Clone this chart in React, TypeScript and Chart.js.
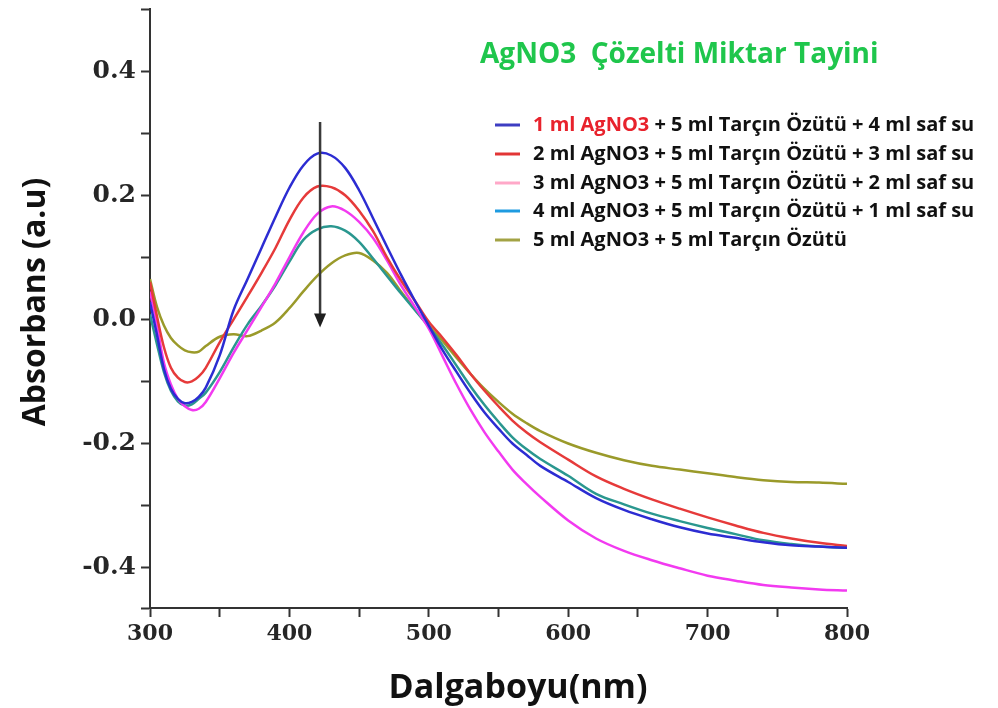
import React, { useEffect, useRef } from 'react';
import { Chart, registerables } from 'chart.js';

Chart.register(...registerables);

// ---- data ----
const wavelengths = [300, 305, 310, 315, 320, 325, 330, 335, 340, 350, 360, 370, 380, 390, 400, 410, 420, 430, 440, 450, 460, 470, 480, 490, 500, 510, 520, 530, 540, 550, 560, 570, 580, 600, 620, 640, 660, 680, 700, 720, 740, 760, 780, 800];

const ag1ml = [0.028, -0.025, -0.08, -0.112, -0.128, -0.135, -0.133, -0.125, -0.11,
  -0.058, 0.015, 0.065, 0.115, 0.165, 0.212, 0.248, 0.267, 0.264, 0.244, 0.208, 0.163, 0.117, 0.072, 0.03, -0.01, -0.05, -0.085, -0.119, -0.15, -0.176, -0.2, -0.218, -0.236,
  -0.262, -0.288, -0.307, -0.322, -0.335, -0.345, -0.352, -0.359, -0.364, -0.366, -0.368];

const ag2ml = [0.06, 0.005, -0.045, -0.078, -0.094, -0.101, -0.1, -0.092, -0.078,
  -0.037, 0.0, 0.037, 0.075, 0.115, 0.16, 0.196, 0.214, 0.213, 0.2, 0.175, 0.142, 0.1, 0.063, 0.03, -0.004, -0.03, -0.058, -0.088, -0.115, -0.14, -0.163, -0.182, -0.198,
  -0.226, -0.253, -0.273, -0.29, -0.305, -0.319, -0.332, -0.344, -0.353, -0.36, -0.365];

const ag3ml = [0.045, -0.01, -0.07, -0.105, -0.128, -0.14, -0.146, -0.144, -0.133,
  -0.095, -0.054, -0.017, 0.02, 0.058, 0.1, 0.14, 0.17, 0.182, 0.175, 0.157, 0.131, 0.095, 0.055, 0.02, -0.015, -0.06, -0.105, -0.146, -0.182, -0.213, -0.242, -0.265, -0.286,
  -0.324, -0.353, -0.373, -0.388, -0.401, -0.413, -0.421, -0.428, -0.432, -0.435, -0.437];

const ag4ml = [0.008, -0.04, -0.085, -0.115, -0.132, -0.139, -0.137, -0.128, -0.118,
  -0.085, -0.045, -0.008, 0.022, 0.055, 0.093, 0.128, 0.145, 0.15, 0.143, 0.125, 0.098, 0.07, 0.042, 0.015, -0.012, -0.042, -0.075, -0.108, -0.138, -0.165, -0.19, -0.209, -0.225,
  -0.252, -0.281, -0.298, -0.313, -0.325, -0.336, -0.346, -0.356, -0.362, -0.366, -0.368];

const ag5ml = [0.065, 0.02, -0.01, -0.03, -0.042, -0.05, -0.053, -0.052, -0.043,
  -0.028, -0.024, -0.027, -0.018, -0.005, 0.018, 0.045, 0.07, 0.09, 0.103, 0.107, 0.095, 0.075, 0.045, 0.016, -0.01, -0.035, -0.062, -0.088, -0.112, -0.133, -0.152, -0.167, -0.18,
  -0.2, -0.215, -0.227, -0.236, -0.242, -0.248, -0.254, -0.259, -0.262, -0.263, -0.265];

const seriesValues = [ag1ml, ag2ml, ag3ml, ag4ml, ag5ml];

const seriesLabels = [
  '1 ml AgNO3 + 5 ml Tarçın Özütü + 4 ml saf su',
  '2 ml AgNO3 + 5 ml Tarçın Özütü + 3 ml saf su',
  '3 ml AgNO3 + 5 ml Tarçın Özütü + 2 ml saf su',
  '4 ml AgNO3 + 5 ml Tarçın Özütü + 1 ml saf su',
  '5 ml AgNO3 + 5 ml Tarçın Özütü',
];
const highlightedPrefix = ['1 ml AgNO3', '', '', '', ''];

const lineColors = ['#2c2cd2', '#e63a3a', '#f23af0', '#2a978f', '#9a9a2a'];
const legendColors = ['#3d3dc2', '#e23535', '#ffa8c8', '#1e9be0', '#a3a345'];

const legendTitle = 'AgNO3  Çözelti Miktar Tayini';
const yTitle = 'Absorbans (a.u)';
const xTitle = 'Dalgaboyu(nm)';

const xMin = 300, xMax = 800, xStep = 50;
const yMin = -0.465, yMax = 0.5, yStep = 0.1;

// arrow (data coordinates)
const arrowX = 422;
const arrowFrom = 0.318;
const arrowTo = -0.013;

const overlayPlugin = {
  id: 'overlay',
  afterDraw(chart: any) {
    const ctx = chart.ctx as CanvasRenderingContext2D;
    const xs = chart.scales.x;
    const ys = chart.scales.y;
    ctx.save();

    // arrow
    const ax = xs.getPixelForValue(arrowX);
    const ay1 = ys.getPixelForValue(arrowFrom);
    const ay2 = ys.getPixelForValue(arrowTo);
    ctx.strokeStyle = '#3a3a3a';
    ctx.lineWidth = 2.5;
    ctx.beginPath();
    ctx.moveTo(ax, ay1);
    ctx.lineTo(ax, ay2 - 10);
    ctx.stroke();
    ctx.fillStyle = '#1e1e1e';
    ctx.beginPath();
    ctx.moveTo(ax - 6, ay2 - 14);
    ctx.lineTo(ax + 6, ay2 - 14);
    ctx.lineTo(ax, ay2);
    ctx.closePath();
    ctx.fill();

    // axis titles
    ctx.fillStyle = '#111';
    ctx.textAlign = 'center';
    ctx.textBaseline = 'middle';
    ctx.font = 'bold 32px "Open Sans"';
    ctx.save();
    ctx.translate(36, 302);
    ctx.rotate(-Math.PI / 2);
    ctx.fillText(yTitle, 0, 0);
    ctx.restore();
    ctx.font = 'bold 34px "Open Sans"';
    ctx.fillText(xTitle, 518, 688);

    // legend title
    ctx.textAlign = 'left';
    ctx.fillStyle = '#1fc64c';
    ctx.font = 'bold 28px "Open Sans"';
    ctx.fillText(legendTitle, 480, 55);

    // legend entries
    const rowY = [125, 154, 183, 211, 240];
    ctx.font = 'bold 20px "Open Sans"';
    seriesLabels.forEach((label, i) => {
      const y = rowY[i];
      ctx.strokeStyle = legendColors[i];
      ctx.lineWidth = 3;
      ctx.beginPath();
      ctx.moveTo(495, y);
      ctx.lineTo(520, y);
      ctx.stroke();
      let x = 533;
      const pre = highlightedPrefix[i];
      let rest = label;
      if (pre && label.startsWith(pre)) {
        ctx.fillStyle = '#e8222c';
        ctx.fillText(pre, x, y);
        x += ctx.measureText(pre).width;
        rest = label.slice(pre.length);
      }
      ctx.fillStyle = '#111';
      ctx.fillText(rest, x, y);
    });

    ctx.restore();
  },
};

export default function App() {
  const canvasRef = useRef<HTMLCanvasElement | null>(null);

  useEffect(() => {
    const canvas = canvasRef.current;
    if (!canvas) return;
    const xTickFont = { family: '"DejaVu Serif"', weight: 'bold' as const, size: 22 };
    const yTickFont = { family: '"DejaVu Serif"', weight: 'bold' as const, size: 25 };
    const chart = new Chart(canvas, {
      type: 'line',
      data: {
        datasets: seriesValues.map((vals, i) => ({
          label: seriesLabels[i],
          data: wavelengths.map((w, j) => ({ x: w, y: vals[j] })),
          borderColor: lineColors[i],
          backgroundColor: lineColors[i],
          borderWidth: 2.5,
          pointRadius: 0,
          tension: 0.35,
          fill: false,
        })),
      },
      options: {
        responsive: false,
        animation: false,
        devicePixelRatio: 1,
        layout: { padding: { top: 9, right: 151, bottom: 0, left: 0 } },
        plugins: {
          legend: { display: false },
          tooltip: { enabled: false },
          title: { display: false },
        },
        scales: {
          x: {
            type: 'linear',
            min: xMin,
            max: xMax,
            border: { display: true, color: '#333', width: 2 },
            grid: { drawOnChartArea: false, drawTicks: true, tickLength: 9, tickColor: '#333', tickWidth: 2 },
            ticks: {
              stepSize: xStep,
              autoSkip: false,
              maxRotation: 0,
              padding: 4,
              color: '#262626',
              font: xTickFont,
              callback: (v: any) => (Math.round(Number(v)) % 100 === 0 ? String(Math.round(Number(v))) : ''),
            },
            afterFit: (s: any) => {
              s.height = 100;
              s.paddingLeft = 0;
              s.paddingRight = 0;
            },
          },
          y: {
            type: 'linear',
            min: yMin,
            max: yMax,
            border: { display: true, color: '#333', width: 2 },
            grid: { drawOnChartArea: false, drawTicks: true, tickLength: 9, tickColor: '#333', tickWidth: 2 },
            ticks: {
              stepSize: yStep,
              autoSkip: false,
              padding: 5,
              color: '#262626',
              font: yTickFont,
              callback: (v: any) => {
                const k = Math.round(Number(v) * 10);
                if (k % 2 !== 0 || Math.abs(k) > 4) return '';
                return (k / 10).toFixed(1);
              },
            },
            afterFit: (s: any) => {
              s.width = 150;
              s.paddingTop = 0;
              s.paddingBottom = 0;
            },
          },
        },
      },
      plugins: [overlayPlugin],
    });
    return () => chart.destroy();
  }, []);

  return (
    <div style={{ position: 'absolute', left: 0, top: 0, width: 998, height: 708, background: '#fff' }}>
      <canvas ref={canvasRef} width={998} height={708} />
    </div>
  );
}
